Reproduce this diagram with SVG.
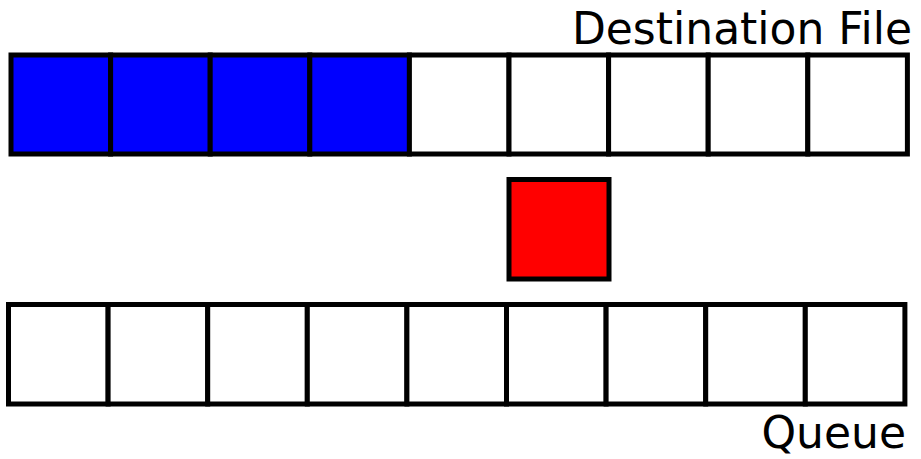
<svg xmlns="http://www.w3.org/2000/svg" width="921" height="459" viewBox="0 0 921 459">
<style>
.cell{fill:#ffffff;stroke:#000000;stroke-width:5}
.blue{fill:#0000ff}
.red{fill:#ff0000}
.lbl{font-family:"DejaVu Sans",sans-serif;font-size:44px;fill:#000000;text-anchor:end}
</style>
<rect width="921" height="459" fill="#ffffff"/>
<g id="destination-file">
<rect class="cell blue" x="11" y="55" width="99.6" height="99"/>
<rect class="cell blue" x="110.6" y="55" width="99.6" height="99"/>
<rect class="cell blue" x="210.2" y="55" width="99.6" height="99"/>
<rect class="cell blue" x="309.8" y="55" width="99.6" height="99"/>
<rect class="cell" x="409.4" y="55" width="99.6" height="99"/>
<rect class="cell" x="509" y="55" width="99.6" height="99"/>
<rect class="cell" x="608.6" y="55" width="99.6" height="99"/>
<rect class="cell" x="708.2" y="55" width="99.6" height="99"/>
<rect class="cell" x="807.8" y="55" width="99.6" height="99"/>
<text class="lbl" x="912" y="44">Destination File</text>
</g>
<g id="current-block">
<rect class="cell red" x="509" y="179.5" width="100" height="99.5"/>
</g>
<g id="queue">
<rect class="cell" x="8.5" y="304.5" width="99.6" height="99.5"/>
<rect class="cell" x="108.1" y="304.5" width="99.6" height="99.5"/>
<rect class="cell" x="207.7" y="304.5" width="99.6" height="99.5"/>
<rect class="cell" x="307.3" y="304.5" width="99.6" height="99.5"/>
<rect class="cell" x="406.9" y="304.5" width="99.6" height="99.5"/>
<rect class="cell" x="506.5" y="304.5" width="99.6" height="99.5"/>
<rect class="cell" x="606.1" y="304.5" width="99.6" height="99.5"/>
<rect class="cell" x="705.7" y="304.5" width="99.6" height="99.5"/>
<rect class="cell" x="805.3" y="304.5" width="99.6" height="99.5"/>
<text class="lbl" x="906" y="448">Queue</text>
</g>
<g id="connectors"></g>
</svg>
